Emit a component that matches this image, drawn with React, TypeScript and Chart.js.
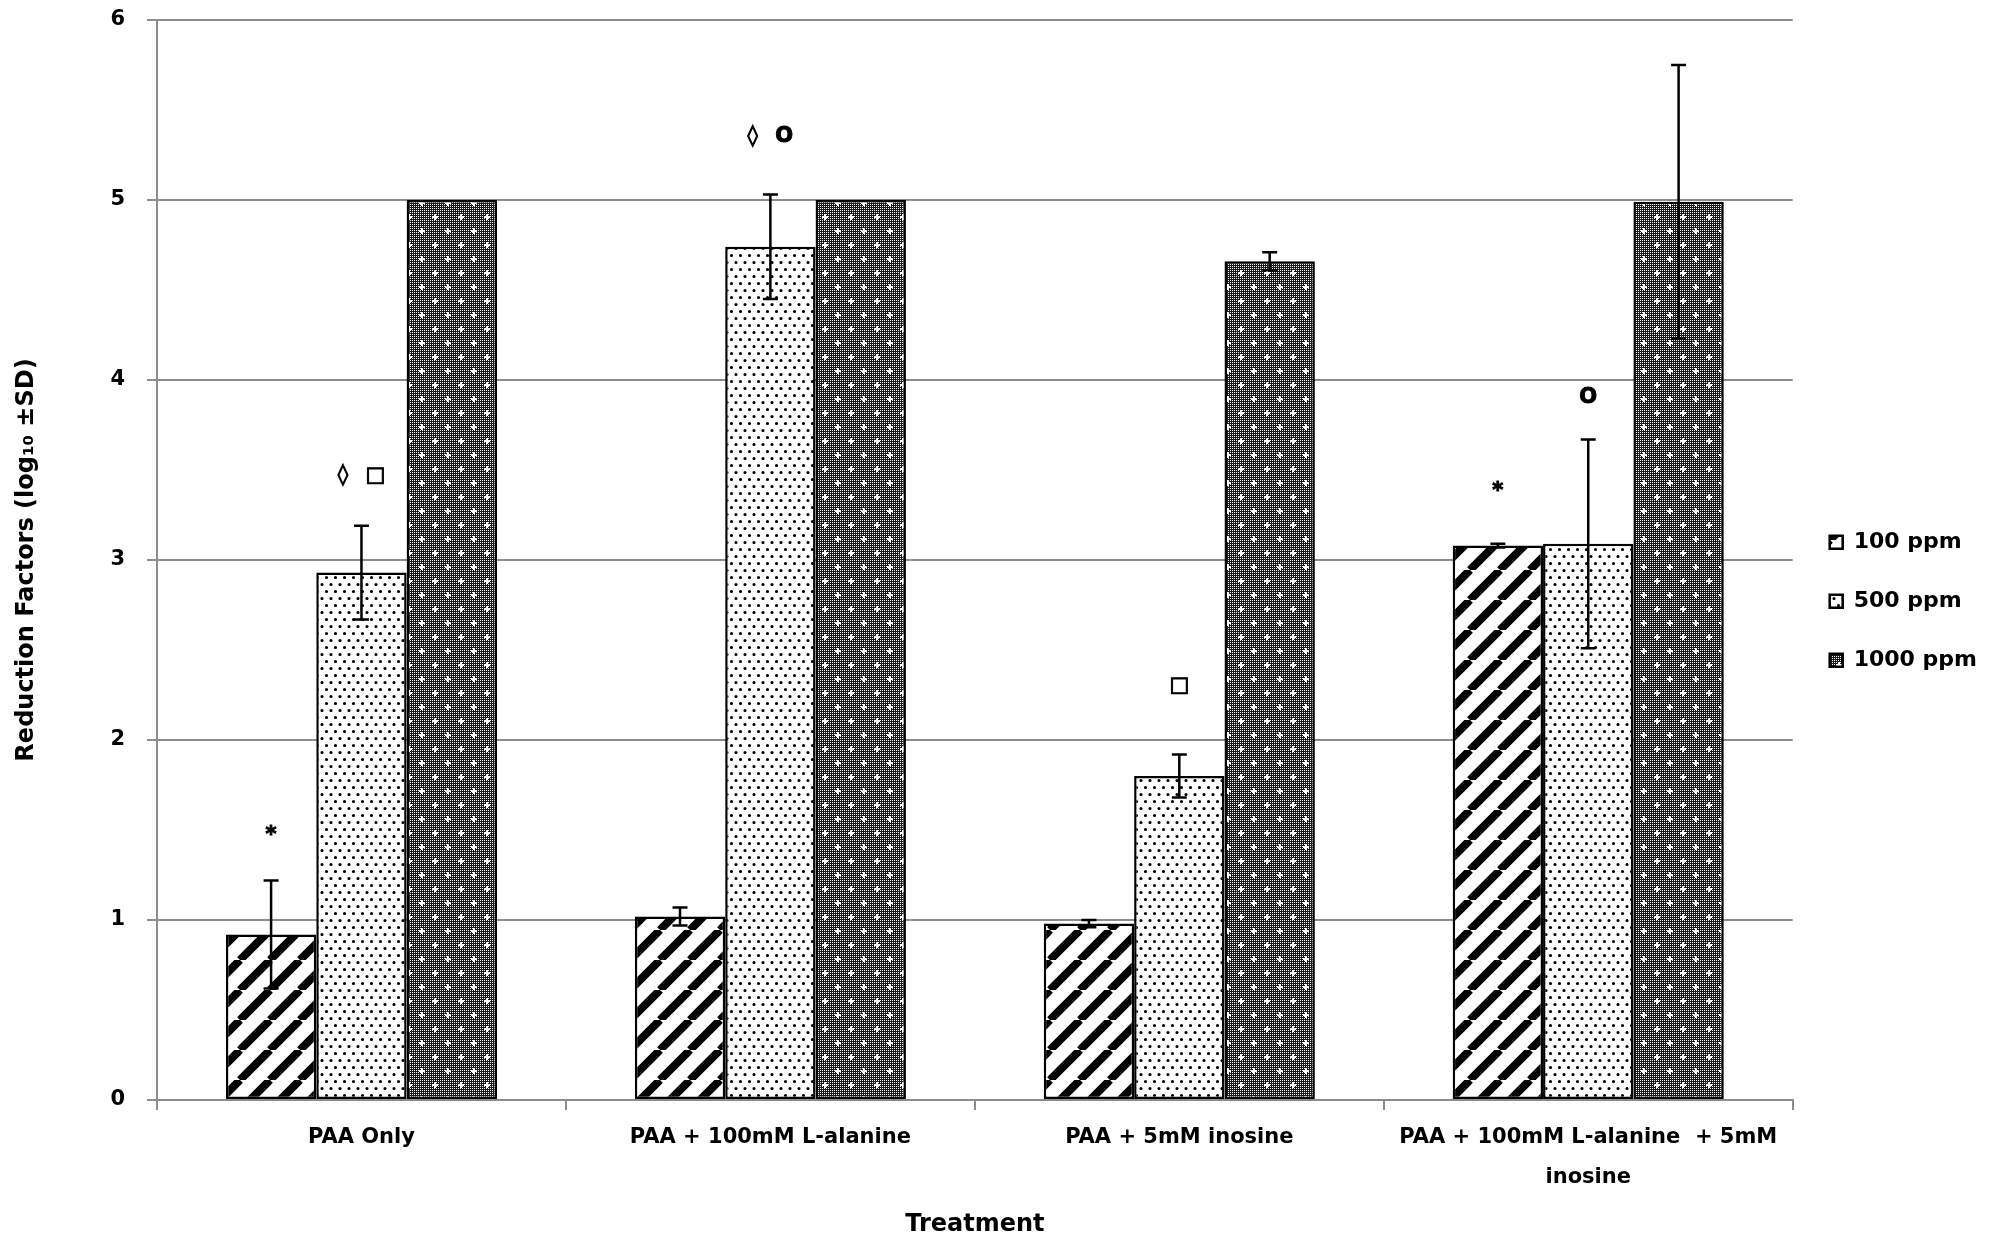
import { useEffect, useRef } from 'react';
import { Chart, registerables } from 'chart.js';

Chart.register(...registerables);

const treatments = [
  'PAA Only',
  'PAA + 100mM L-alanine',
  'PAA + 5mM inosine',
  ['PAA + 100mM L-alanine  + 5mM', 'inosine'],
];
const seriesNames = ['100 ppm', '500 ppm', '1000 ppm'];

// log10 reduction factors
const ppm100 = [0.92, 1.02, 0.98, 3.08];
const ppm500 = [2.93, 4.74, 1.8, 3.09];
const ppm1000 = [5.0, 5.0, 4.66, 4.99];

// standard deviations
const sd100 = [0.3, 0.05, 0.02, 0.01];
const sd500 = [0.26, 0.29, 0.12, 0.58];
const sd1000 = [0, 0, 0.05, 0.76];

const yTicks = [0, 1, 2, 3, 4, 5, 6];

// significance marks above the bars
const markSeries = [0, 1, 1, 1, 0, 1];
const markGroup = [0, 0, 1, 2, 3, 3];
const markY = [1.47, 3.47, 5.35, 2.3, 3.38, 3.9];
const markText = ['*', '◊ □', '◊ O', '□', '*', 'O'];

const FONT = 'DejaVu Sans';
const GRID = '#8c8c8c';

function makeTile(w: number, h: number, draw: (c: CanvasRenderingContext2D) => void) {
  const cnv = document.createElement('canvas');
  cnv.width = w;
  cnv.height = h;
  const c = cnv.getContext('2d')!;
  draw(c);
  return c.createPattern(cnv, 'repeat')!;
}

// thick "/" stripes
const stripePattern = () =>
  makeTile(30, 30, (c) => {
    c.fillStyle = '#fff';
    c.fillRect(0, 0, 30, 30);
    c.strokeStyle = '#000';
    c.lineWidth = 8;
    for (let k = -1; k <= 1; k++) {
      c.beginPath();
      c.moveTo(k * 30, 30);
      c.lineTo(k * 30 + 30, 0);
      c.stroke();
    }
  });

// small black dots on white
const dotPattern = () =>
  makeTile(9, 14, (c) => {
    c.fillStyle = '#fff';
    c.fillRect(0, 0, 9, 14);
    c.fillStyle = '#000';
    c.beginPath();
    c.arc(2.5, 3.5, 1.6, 0, Math.PI * 2);
    c.arc(7, 10.5, 1.6, 0, Math.PI * 2);
    c.fill();
  });

// dark fine checker with white crosses
const crossPattern = () =>
  makeTile(26, 28, (c) => {
    c.fillStyle = '#1a1a1a';
    c.fillRect(0, 0, 26, 28);
    c.fillStyle = '#fff';
    for (let x = 0; x < 26; x += 2) {
      for (let y = 0; y < 28; y += 2) c.fillRect(x, y, 1, 1);
    }
    [[6, 7], [19, 21]].forEach(([cx, cy]) => {
      c.fillRect(cx - 3, cy - 1, 6, 2);
      c.fillRect(cx - 1, cy - 3, 2, 6);
    });
  });

const errorBars = {
  id: 'errorBars',
  afterDatasetsDraw(chart: Chart) {
    const ctx = chart.ctx;
    const y = chart.scales.y;
    const sds = [sd100, sd500, sd1000];
    ctx.save();
    ctx.strokeStyle = '#000';
    ctx.lineWidth = 2.5;
    chart.data.datasets.forEach((ds, i) => {
      chart.getDatasetMeta(i).data.forEach((bar, j) => {
        const sd = sds[i][j];
        if (!sd) return;
        const v = ds.data[j] as number;
        const top = y.getPixelForValue(v + sd);
        const bot = y.getPixelForValue(v - sd);
        ctx.beginPath();
        ctx.moveTo(bar.x, top);
        ctx.lineTo(bar.x, bot);
        ctx.moveTo(bar.x - 7.5, top);
        ctx.lineTo(bar.x + 7.5, top);
        ctx.moveTo(bar.x - 7.5, bot);
        ctx.lineTo(bar.x + 7.5, bot);
        ctx.stroke();
      });
    });
    ctx.restore();
  },
};

const marks = {
  id: 'marks',
  afterDatasetsDraw(chart: Chart) {
    const ctx = chart.ctx as any;
    const y = chart.scales.y;
    ctx.save();
    ctx.font = `bold 21px "${FONT}"`;
    ctx.wordSpacing = '10px';
    ctx.fillStyle = '#000';
    ctx.strokeStyle = '#000';
    ctx.lineWidth = 1;
    ctx.textAlign = 'center';
    ctx.textBaseline = 'middle';
    markText.forEach((t, k) => {
      const bar = chart.getDatasetMeta(markSeries[k]).data[markGroup[k]];
      const py = y.getPixelForValue(markY[k]);
      ctx.fillText(t, bar.x, py);
      ctx.strokeText(t, bar.x, py);
    });
    ctx.restore();
  },
};

const ReductionChart = () => {
  const chartRef = useRef<HTMLCanvasElement>(null);
  const chartInstance = useRef<Chart>();

  useEffect(() => {
    document.body.style.margin = '0';
    if (!chartRef.current) return;
    if (chartInstance.current) chartInstance.current.destroy();

    chartInstance.current = new Chart(chartRef.current, {
      type: 'bar',
      data: {
        labels: treatments,
        datasets: [
          { label: seriesNames[0], data: ppm100, backgroundColor: stripePattern() },
          { label: seriesNames[1], data: ppm500, backgroundColor: dotPattern() },
          { label: seriesNames[2], data: ppm1000, backgroundColor: crossPattern() },
        ].map((d) => ({
          ...d,
          borderColor: '#000',
          borderWidth: 2.5,
          borderSkipped: false,
          categoryPercentage: 0.663,
          barPercentage: 1.0,
        })),
      },
      options: {
        responsive: true,
        maintainAspectRatio: false,
        animation: false,
        layout: { padding: { top: 20, right: 13, bottom: 0, left: 0 } },
        plugins: {
          tooltip: { enabled: false },
          legend: {
            position: 'right',
            fullSize: false,
            // empty title just pushes the items down a little
            title: { display: true, text: ' ', padding: { top: 0, bottom: 56 }, font: { size: 22 } },
            labels: {
              boxWidth: 13,
              boxHeight: 13,
              padding: 37,
              color: '#000',
              font: { family: FONT, size: 22, weight: 'bold' },
            },
          },
        },
        scales: {
          x: {
            afterFit: (s) => {
              s.height = 145;
            },
            grid: { drawOnChartArea: false, offset: true, tickLength: 10, color: GRID, lineWidth: 2 },
            border: { color: GRID, width: 2 },
            ticks: {
              color: '#000',
              padding: 8,
              maxRotation: 0,
              font: { family: FONT, size: 21, weight: 'bold', lineHeight: 1.9 },
            },
            title: {
              display: true,
              text: 'Treatment',
              color: '#000',
              padding: { top: 0, bottom: 6 },
              font: { family: FONT, size: 24, weight: 'bold' },
            },
          },
          y: {
            min: 0,
            max: 6,
            afterFit: (s) => {
              s.width = 157;
              // don't let the tick padding push the plot area down
              s.paddingTop = 0;
              s.paddingBottom = 0;
            },
            afterBuildTicks: (s) => {
              s.ticks = yTicks.map((v) => ({ value: v }));
            },
            grid: { color: GRID, lineWidth: 2, tickLength: 10 },
            border: { color: GRID, width: 2 },
            ticks: {
              color: '#000',
              padding: 22,
              font: { family: FONT, size: 21, weight: 'bold' },
            },
            title: {
              display: true,
              text: 'Reduction Factors (log₁₀ ±SD)',
              color: '#000',
              padding: { top: 12, bottom: 0 },
              font: { family: FONT, size: 24, weight: 'bold' },
            },
          },
        },
      },
      plugins: [errorBars, marks],
    });

    return () => {
      if (chartInstance.current) chartInstance.current.destroy();
    };
  }, []);

  return (
    <div style={{ position: 'relative', width: 2000, height: 1245 }}>
      <canvas ref={chartRef} />
    </div>
  );
};

export default function App() {
  return <ReductionChart />;
}
